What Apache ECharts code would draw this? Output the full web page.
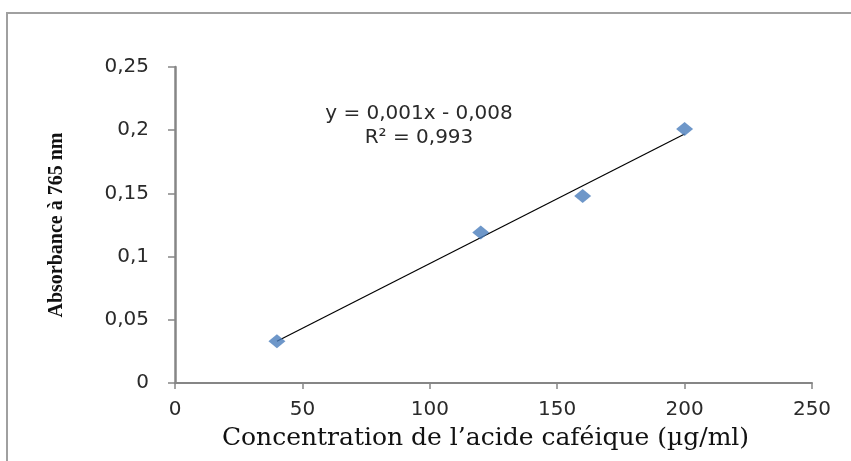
<!DOCTYPE html>
<html>
<head>
<meta charset="utf-8">
<script src="https://cdn.jsdelivr.net/npm/echarts@6/dist/echarts.min.js"></script>
<style>
html,body{margin:0;padding:0;background:#fff;}
#c{width:851px;height:461px;}
</style>
</head>
<body>
<div id="c"></div>
<script>
var concentrations = [40, 120, 160, 200];
var absorbances = [0.033, 0.119, 0.148, 0.201];
var xTicks = [0, 50, 100, 150, 200, 250];
var yTicks = [0, 0.05, 0.1, 0.15, 0.2, 0.25];
var equationText = 'y = 0,001x - 0,008';
var r2Text = 'R\u00b2 = 0,993';

// least-squares trend line over the data range
var n = concentrations.length, mx = 0, my = 0;
for (var i = 0; i < n; i++) { mx += concentrations[i]; my += absorbances[i]; }
mx /= n; my /= n;
var sxx = 0, sxy = 0;
for (var i = 0; i < n; i++) {
  sxx += (concentrations[i] - mx) * (concentrations[i] - mx);
  sxy += (concentrations[i] - mx) * (absorbances[i] - my);
}
var slope = sxy / sxx, intercept = my - slope * mx;
var xMin = Math.min.apply(null, concentrations), xMax = Math.max.apply(null, concentrations);
var trend = [[xMin, slope * xMin + intercept], [xMax, slope * xMax + intercept]];

function fmt(v) { return String(+v.toFixed(4)).replace('.', ','); }

var chart = echarts.init(document.getElementById('c'), null, {renderer: 'canvas'});
chart.setOption({
  animation: false,
  backgroundColor: '#fff',
  grid: {left: 175, right: 39, top: 67, bottom: 78, containLabel: false},
  xAxis: {
    type: 'value', min: xTicks[0], max: xTicks[xTicks.length - 1], interval: 50,
    axisLine: {show: true, onZero: false, lineStyle: {color: '#868686', width: 2}},
    axisTick: {show: true, length: 6, lineStyle: {color: '#868686', width: 1.5}},
    splitLine: {show: false},
    axisLabel: {color: '#2a2a2a', fontFamily: 'DejaVu Sans', fontSize: 20, margin: 17, formatter: fmt},
    name: 'Concentration de l\u2019acide caf\u00e9ique (\u00b5g/ml)',
    nameLocation: 'middle', nameGap: 43,
    nameTextStyle: {color: '#111', fontFamily: 'DejaVu Serif', fontSize: 25, padding: [0, 16, 0, 0]}
  },
  yAxis: {
    type: 'value', min: yTicks[0], max: yTicks[yTicks.length - 1], interval: 0.05,
    axisLine: {show: true, lineStyle: {color: '#868686', width: 2.5}},
    axisTick: {show: true, length: 7, lineStyle: {color: '#868686', width: 1.5}},
    splitLine: {show: false},
    axisLabel: {color: '#2a2a2a', fontFamily: 'DejaVu Sans', fontSize: 20, margin: 26, formatter: fmt},
    name: 'Absorbance \u00e0 765 nm',
    nameLocation: 'middle', nameGap: 108, nameRotate: 90,
    nameTextStyle: {color: '#111', fontFamily: 'Liberation Serif', fontWeight: 'bold', fontSize: 20}
  },
  series: [
    {
      type: 'line', data: trend, showSymbol: false, symbol: 'none',
      lineStyle: {color: '#000', width: 1.2}, z: 2, silent: true
    },
    {
      type: 'scatter',
      data: concentrations.map(function (x, i) { return [x, absorbances[i]]; }),
      symbol: 'diamond', symbolSize: [17, 14],
      itemStyle: {color: '#4a7dbb'}, z: 3
    }
  ],
  graphic: [
    {type: 'line', shape: {x1: 6, y1: 13, x2: 851, y2: 13}, style: {stroke: '#a0a0a0', lineWidth: 2}},
    {type: 'line', shape: {x1: 7, y1: 13, x2: 7, y2: 461}, style: {stroke: '#a0a0a0', lineWidth: 2}},
    {type: 'text', x: 419, y: 104, style: {text: equationText, fill: '#2a2a2a', font: '20px "DejaVu Sans"', textAlign: 'center'}},
    {type: 'text', x: 419, y: 128, style: {text: r2Text, fill: '#2a2a2a', font: '20px "DejaVu Sans"', textAlign: 'center'}}
  ]
});
</script>
</body>
</html>
